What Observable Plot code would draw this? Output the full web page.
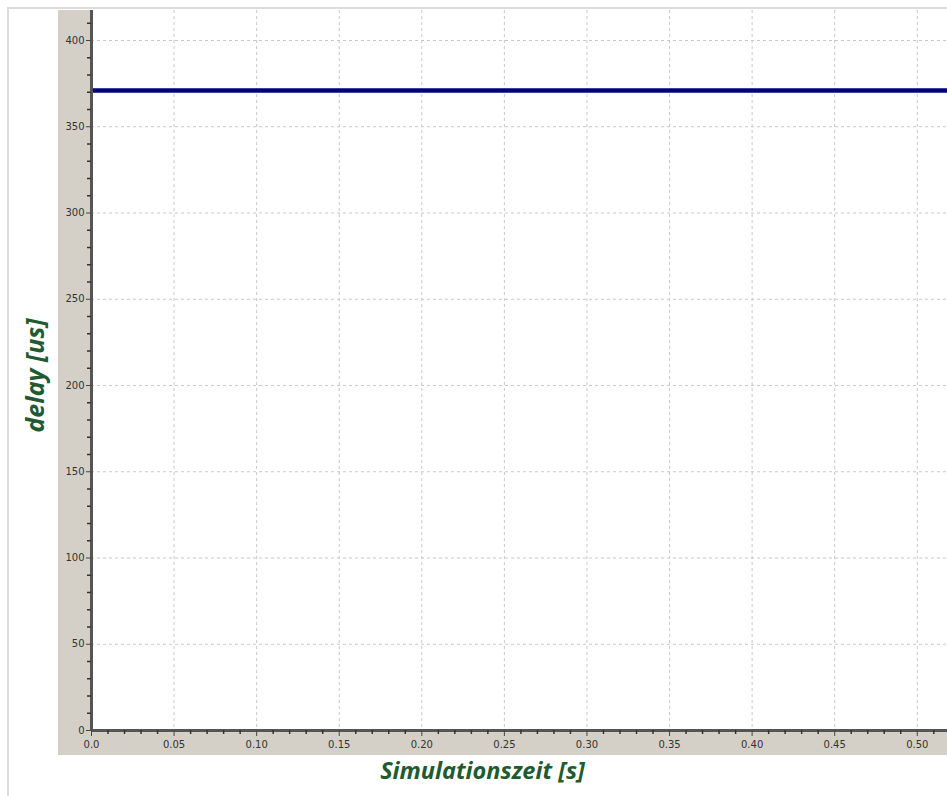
<!DOCTYPE html>
<html>
<head>
<meta charset="utf-8">
<script src="https://cdn.jsdelivr.net/npm/d3@7"></script>
<script src="https://cdn.jsdelivr.net/npm/@observablehq/plot@0.6"></script>
<style>
  html, body { margin: 0; padding: 0; background: #fff; }
  #wrap { position: relative; width: 947px; height: 796px; overflow: hidden; }
  .deco { position: absolute; }
  #chart { position: absolute; left: 0; top: 0; }
</style>
</head>
<body>
<div id="wrap">
  <div class="deco" style="left:8px;top:7px;width:939px;height:2px;background:#dcdcdc"></div>
  <div class="deco" style="left:7px;top:7px;width:2px;height:789px;background:#dcdcdc"></div>
  <div class="deco" style="left:58px;top:10px;width:33px;height:745px;background:#d4d0c8"></div>
  <div class="deco" style="left:58px;top:730px;width:889px;height:25px;background:#d4d0c8"></div>
  <div id="chart"></div>
</div>
<script>
// ---- data ----
const time = [0, 0.1, 0.2, 0.3, 0.4, 0.5, 0.52];
const delay = [371, 371, 371, 371, 371, 371, 371];

const xTicks = [0, 0.05, 0.10, 0.15, 0.20, 0.25, 0.30, 0.35, 0.40, 0.45, 0.50];
const xTickLabels = ["0.0", "0.05", "0.10", "0.15", "0.20", "0.25", "0.30", "0.35", "0.40", "0.45", "0.50"];
const xMinorTicks = [0.01,0.02,0.03,0.04,0.06,0.07,0.08,0.09,0.11,0.12,0.13,0.14,0.16,0.17,0.18,0.19,0.21,0.22,0.23,0.24,0.26,0.27,0.28,0.29,0.31,0.32,0.33,0.34,0.36,0.37,0.38,0.39,0.41,0.42,0.43,0.44,0.46,0.47,0.48,0.49,0.51];
const yTicks = [0, 50, 100, 150, 200, 250, 300, 350, 400];
const yTickLabels = ["0", "50", "100", "150", "200", "250", "300", "350", "400"];
const yMinorTicks = [10,20,30,40,60,70,80,90,110,120,130,140,160,170,180,190,210,220,230,240,260,270,280,290,310,320,330,340,360,370,380,390,410];

const xTitle = "Simulationszeit [s]";
const yTitle = "delay [us]";

const data = time.map((t, i) => ({t, d: delay[i]}));
const titleFont = "Open Sans, Lato, sans-serif";
const titleColor = "#215a30";

const chart = Plot.plot({
  width: 947,
  height: 796,
  marginLeft: 91,
  marginRight: 0,
  marginTop: 10,
  marginBottom: 66,
  style: {background: "transparent", fontFamily: "DejaVu Sans, sans-serif", fontSize: "10px", color: "#333"},
  x: {domain: [0, 0.5183]},
  y: {domain: [0, 417.4]},
  marks: [
    Plot.gridX(xTicks, {stroke: "#c8c8c8", strokeOpacity: 1, strokeDasharray: "3,3"}),
    Plot.gridY(yTicks, {stroke: "#c8c8c8", strokeOpacity: 1, strokeDasharray: "3,3"}),
    Plot.line(data, {x: "t", y: "d", stroke: "#000080", strokeWidth: 4.5, clip: true}),
    Plot.ruleX([0], {stroke: "#555", strokeWidth: 3}),
    Plot.ruleY([0], {stroke: "#555", strokeWidth: 3}),
    Plot.axisX(xTicks, {tickSize: 6, tickPadding: 4, stroke: "#444", tickFormat: (d, i) => xTickLabels[i], label: null, fill: "#333"}),
    Plot.axisX(xMinorTicks, {tickSize: 4, stroke: "#333", strokeWidth: 1.5, tickFormat: () => "", label: null}),
    Plot.axisY(yTicks, {tickSize: 5, tickPadding: 2, stroke: "#444", tickFormat: (d, i) => yTickLabels[i], label: null, fill: "#333"}),
    Plot.axisY(yMinorTicks, {tickSize: 4, stroke: "#333", strokeWidth: 1.5, tickFormat: () => "", label: null}),
    Plot.text([yTitle], {frameAnchor: "left", textAnchor: "middle", dx: -56, dy: 5, rotate: -90, fontSize: 25, fontWeight: "bold", fontStyle: "italic", fill: titleColor, fontFamily: titleFont}),
    Plot.text([xTitle], {frameAnchor: "bottom", dx: -37, dy: 48, fontSize: 23.5, fontWeight: "bold", fontStyle: "italic", fill: titleColor, fontFamily: titleFont})
  ]
});
document.getElementById("chart").appendChild(chart);
</script>
</body>
</html>
